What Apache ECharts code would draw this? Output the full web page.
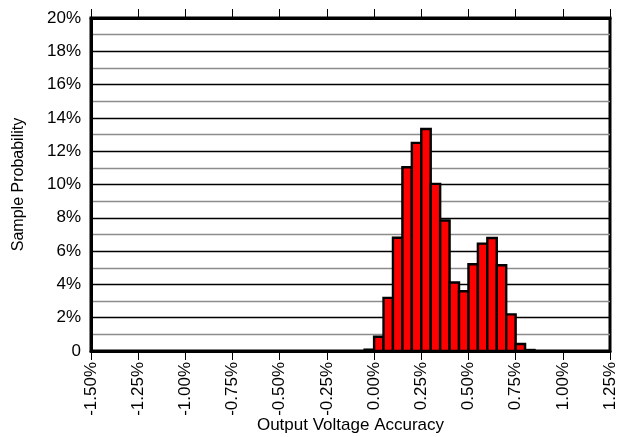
<!DOCTYPE html>
<html>
<head>
<meta charset="utf-8">
<script src="https://cdn.jsdelivr.net/npm/echarts@6/dist/echarts.min.js"></script>
<style>
  html, body { margin: 0; padding: 0; background: #fff; }
  #chart { width: 623px; height: 437px; }
</style>
</head>
<body>
<div id="chart"></div>
<script>
// Histogram bins: left edge of each 0.05% wide bin (in %)
const binLeft = [-0.05, 0.00, 0.05, 0.10, 0.15, 0.20, 0.25, 0.30, 0.35,
                 0.40, 0.45, 0.50, 0.55, 0.60, 0.65, 0.70, 0.75, 0.80];
const binWidth = 0.05;
// Sample probability per bin (in %)
const probability = [0.08, 0.86, 3.19, 6.8, 11.04, 12.5, 13.33, 10.04, 7.84,
                     4.11, 3.59, 5.21, 6.45, 6.79, 5.15, 2.2, 0.42, 0.06];

const xMin = -1.5, xMax = 1.25, xStep = 0.25;
const yMin = 0, yMax = 20, yStep = 1;

const bars = binLeft.map((x0, i) => [x0, x0 + binWidth, probability[i]]);

const font = 'Liberation Sans, Arial, sans-serif';
const chart = echarts.init(document.getElementById('chart'));

const tickStyle = { show: true, inside: false, length: 9, lineStyle: { color: '#000', width: 1 } };

chart.setOption({
  animation: false,
  grid: {
    left: 91, right: 13, top: 18, bottom: 86,
    containLabel: false, outerBoundsMode: 'none',
    show: true, borderColor: '#000', borderWidth: 3, backgroundColor: 'transparent'
  },
  xAxis: [
    {
      type: 'value', position: 'bottom',
      min: xMin, max: xMax, interval: xStep,
      name: 'Output Voltage Accuracy', nameLocation: 'middle', nameGap: 66,
      nameMoveOverlap: false,
      nameTextStyle: { color: '#000', fontSize: 17, fontFamily: font },
      axisLine: { show: true, onZero: false, lineStyle: { color: '#000', width: 3 } },
      axisTick: tickStyle,
      axisLabel: {
        rotate: 90, margin: 11, color: '#000', fontSize: 17, fontFamily: font,
        formatter: v => v.toFixed(2) + '%'
      },
      splitLine: { show: false }
    },
    {
      type: 'value', position: 'top',
      min: xMin, max: xMax, interval: xStep,
      axisLine: { show: true, onZero: false, lineStyle: { color: '#000', width: 3 } },
      axisTick: tickStyle,
      axisLabel: { show: false },
      splitLine: { show: false }
    }
  ],
  yAxis: {
    type: 'value', min: yMin, max: yMax, interval: yStep,
    name: 'Sample Probability', nameLocation: 'middle', nameGap: 64,
    nameMoveOverlap: false,
    nameTextStyle: { color: '#000', fontSize: 16, fontFamily: font },
    axisLine: { show: true, onZero: false, lineStyle: { color: '#000', width: 3 } },
    axisTick: { show: false },
    axisLabel: {
      margin: 10, color: '#000', fontSize: 17, fontFamily: font,
      formatter: v => (v === 0 ? '0' : (v % 2 === 0 ? v + '%' : ''))
    },
    splitLine: { show: true, lineStyle: { color: ['#000', '#8c8c8c'], width: 1.3 } }
  },
  series: [{
    type: 'custom',
    xAxisIndex: 0,
    data: bars,
    encode: { x: [0, 1], y: 2 },
    renderItem: (params, api) => {
      const p0 = api.coord([api.value(0), api.value(2)]);
      const p1 = api.coord([api.value(1), 0]);
      return {
        type: 'rect',
        shape: { x: p0[0], y: p0[1], width: p1[0] - p0[0], height: p1[1] - p0[1] },
        style: { fill: '#ff0000', stroke: '#000', lineWidth: 2.4 }
      };
    }
  }]
});
</script>
</body>
</html>
